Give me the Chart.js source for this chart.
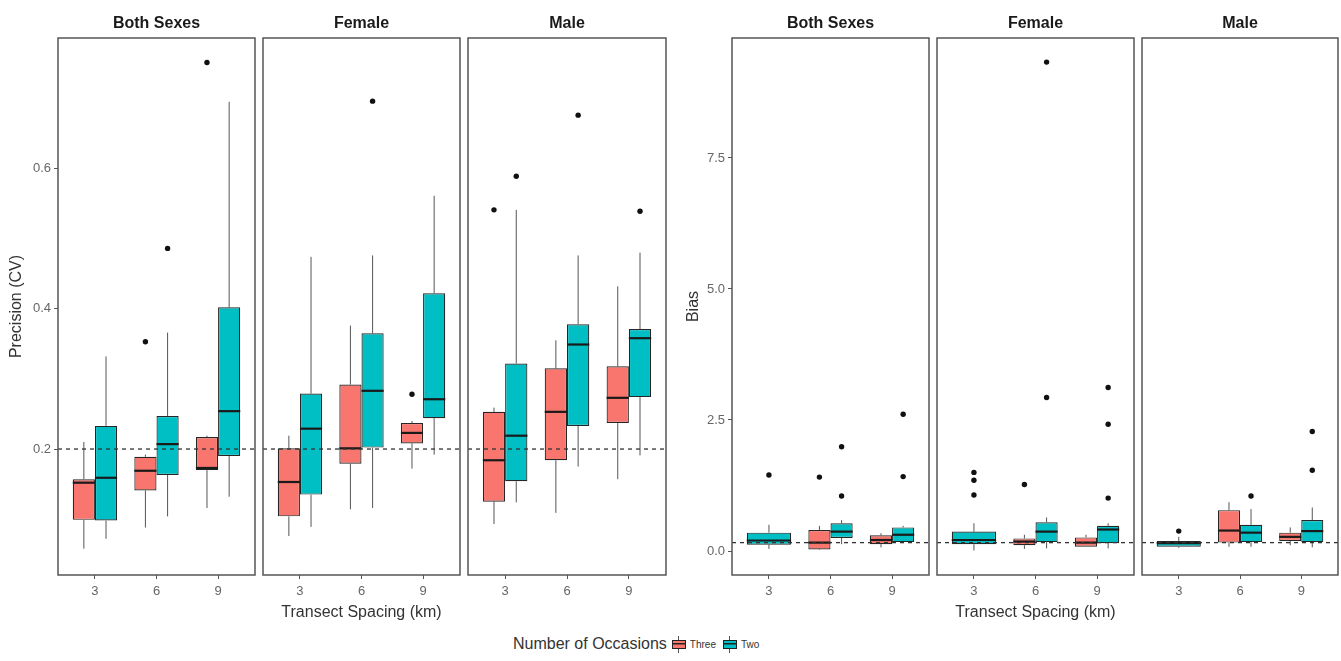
<!DOCTYPE html>
<html>
<head>
<meta charset="utf-8">
<script src="https://cdn.jsdelivr.net/npm/chart.js@4.4.0/dist/chart.umd.min.js"></script>
<style>
  html, body { margin: 0; padding: 0; background: #fff; }
  body { width: 1341px; height: 661px; position: relative; overflow: hidden; font-family: "Liberation Sans", Arial, sans-serif; }
  canvas { position: absolute; left: 0; top: 0; }
  #legend { position: absolute; left: 513px; top: 634px; height: 20px; display: flex; align-items: center; color: #333; }
  #legend .ttl { font-size: 16px; margin-right: 5px; }
  #legend .lab { font-size: 10px; margin: 0 7px 0 4px; }
  .key { position: relative; display: inline-block; width: 14px; height: 17px; }
  .key::before { content: ''; position: absolute; left: 6px; top: 0; width: 1px; height: 17px; background: #555; }
  .key::after { content: ''; position: absolute; left: 0; top: 4px; width: 12px; height: 7px; border: 1px solid #222;
    background: linear-gradient(#222, #222) center / 100% 1.5px no-repeat, var(--c); }
</style>
</head>
<body>
<div id="legend">
  <span class="ttl">Number of Occasions</span>
  <span class="key" style="--c:#F8766D"></span><span class="lab">Three</span>
  <span class="key" style="--c:#00BFC4"></span><span class="lab">Two</span>
</div>
<script>
// transect spacing categories (km)
const spacings = [3, 6, 9];
const xTickLabels = ['3', '6', '9'];

// each box: [lower whisker, Q1, median, Q3, upper whisker], one per spacing
// Precision (CV)
const cvBothThree = [[0.058, 0.099, 0.152, 0.157, 0.210], [0.088, 0.141, 0.169, 0.189, 0.192], [0.116, 0.170, 0.173, 0.217, 0.219]];
const cvBothTwo = [[0.072, 0.098, 0.159, 0.233, 0.332], [0.104, 0.163, 0.207, 0.247, 0.366], [0.132, 0.190, 0.254, 0.402, 0.695]];
const cvBothThreeOut = [[], [0.353], [0.751]];
const cvBothTwoOut = [[], [0.486], []];

const cvFemaleThree = [[0.076, 0.104, 0.153, 0.201, 0.219], [0.114, 0.179, 0.201, 0.292, 0.376], [0.172, 0.208, 0.223, 0.237, 0.240]];
const cvFemaleTwo = [[0.089, 0.135, 0.229, 0.279, 0.474], [0.116, 0.202, 0.283, 0.365, 0.476], [0.192, 0.244, 0.271, 0.422, 0.561]];
const cvFemaleThreeOut = [[], [], [0.278]];
const cvFemaleTwoOut = [[], [0.696], []];

const cvMaleThree = [[0.093, 0.125, 0.184, 0.253, 0.259], [0.109, 0.184, 0.253, 0.315, 0.355], [0.157, 0.237, 0.273, 0.318, 0.432]];
const cvMaleTwo = [[0.124, 0.154, 0.219, 0.322, 0.541], [0.175, 0.233, 0.349, 0.378, 0.476], [0.191, 0.274, 0.358, 0.371, 0.480]];
const cvMaleThreeOut = [[0.541], [], []];
const cvMaleTwoOut = [[0.589], [0.676], [0.539]];

// Bias (no "Three" box at 3 km)
const biasBothThree = [null, [0.02, 0.03, 0.16, 0.40, 0.48], [0.07, 0.13, 0.21, 0.30, 0.34]];
const biasBothTwo = [[0.04, 0.12, 0.20, 0.35, 0.50], [0.13, 0.25, 0.37, 0.53, 0.59], [0.15, 0.17, 0.31, 0.45, 0.48]];
const biasBothThreeOut = [[], [1.41], []];
const biasBothTwoOut = [[1.45], [1.99, 1.05], [2.61, 1.42]];

const biasFemaleThree = [null, [0.04, 0.11, 0.18, 0.24, 0.31], [0.08, 0.08, 0.16, 0.26, 0.31]];
const biasFemaleTwo = [[0.01, 0.13, 0.21, 0.37, 0.53], [0.05, 0.17, 0.37, 0.55, 0.64], [0.05, 0.15, 0.41, 0.48, 0.53]];
const biasFemaleThreeOut = [[], [1.27], []];
const biasFemaleTwoOut = [[1.50, 1.35, 1.07], [9.33, 2.93], [3.12, 2.42, 1.01]];

const biasMaleThree = [null, [0.08, 0.16, 0.39, 0.78, 0.93], [0.11, 0.19, 0.27, 0.35, 0.45]];
const biasMaleTwo = [[0.06, 0.08, 0.15, 0.19, 0.27], [0.08, 0.17, 0.35, 0.50, 0.80], [0.07, 0.17, 0.38, 0.59, 0.83]];
const biasMaleThreeOut = [[], [], []];
const biasMaleTwoOut = [[0.38], [1.05], [2.28, 1.54]];

// y axes
const cvTicks = [0.2, 0.4, 0.6];
const cvTickLabels = ['0.2', '0.4', '0.6'];
const biasTicks = [0, 2.5, 5, 7.5];
const biasTickLabels = ['0.0', '2.5', '5.0', '7.5'];
const cvRef = 0.2;
const biasRef = 0.16;

const PAGE_W = 1341, PAGE_H = 661;
const PANEL_BOTTOM = 575;
const X_AXIS_H = 48;
const FONT = '"Liberation Sans", Arial, sans-serif';
const COLORS = { Three: '#F8766D', Two: '#00BFC4' };

const axes = {
  cv: { min: 0.0204, max: 0.786, ticks: cvTicks, labels: cvTickLabels, title: 'Precision (CV)', ref: cvRef, width: 58, titlePad: 7 },
  bias: { min: -0.458, max: 9.79, ticks: biasTicks, labels: biasTickLabels, title: 'Bias', ref: biasRef, width: 50, titlePad: 2 }
};

const facets = [
  { axis: 'cv', name: 'Both Sexes', three: cvBothThree, two: cvBothTwo, threeOut: cvBothThreeOut, twoOut: cvBothTwoOut, left: 58, right: 255, showY: true },
  { axis: 'cv', name: 'Female', three: cvFemaleThree, two: cvFemaleTwo, threeOut: cvFemaleThreeOut, twoOut: cvFemaleTwoOut, left: 263, right: 460, xTitle: true },
  { axis: 'cv', name: 'Male', three: cvMaleThree, two: cvMaleTwo, threeOut: cvMaleThreeOut, twoOut: cvMaleTwoOut, left: 468, right: 666 },
  { axis: 'bias', name: 'Both Sexes', three: biasBothThree, two: biasBothTwo, threeOut: biasBothThreeOut, twoOut: biasBothTwoOut, left: 732, right: 929, showY: true },
  { axis: 'bias', name: 'Female', three: biasFemaleThree, two: biasFemaleTwo, threeOut: biasFemaleThreeOut, twoOut: biasFemaleTwoOut, left: 937, right: 1134, xTitle: true },
  { axis: 'bias', name: 'Male', three: biasMaleThree, two: biasMaleTwo, threeOut: biasMaleThreeOut, twoOut: biasMaleTwoOut, left: 1142, right: 1338 }
];

// whiskers, medians, outliers, reference line and panel border
const boxDetails = {
  id: 'boxDetails',
  beforeDatasetsDraw(chart) {
    const { ctx } = chart;
    const y = chart.scales.y;
    ctx.save();
    ctx.strokeStyle = '#555';
    ctx.lineWidth = 1;
    chart.data.datasets.forEach((ds, di) => {
      chart.getDatasetMeta(di).data.forEach((bar, i) => {
        const st = ds.stats[i];
        if (!st) return;
        ctx.beginPath();
        ctx.moveTo(bar.x, y.getPixelForValue(st[0]));
        ctx.lineTo(bar.x, y.getPixelForValue(st[1]));
        ctx.moveTo(bar.x, y.getPixelForValue(st[3]));
        ctx.lineTo(bar.x, y.getPixelForValue(st[4]));
        ctx.stroke();
      });
    });
    ctx.restore();
  },
  afterDatasetsDraw(chart, args, opts) {
    const { ctx, chartArea } = chart;
    const y = chart.scales.y;
    ctx.save();
    chart.data.datasets.forEach((ds, di) => {
      chart.getDatasetMeta(di).data.forEach((bar, i) => {
        const st = ds.stats[i];
        if (!st) return;
        const py = y.getPixelForValue(st[2]);
        ctx.strokeStyle = '#1a1a1a';
        ctx.lineWidth = 2.2;
        ctx.beginPath();
        ctx.moveTo(bar.x - bar.width / 2, py);
        ctx.lineTo(bar.x + bar.width / 2, py);
        ctx.stroke();
        ctx.fillStyle = '#111';
        ds.outs[i].forEach(v => {
          ctx.beginPath();
          ctx.arc(bar.x, y.getPixelForValue(v), 2.7, 0, Math.PI * 2);
          ctx.fill();
        });
      });
    });
    const ry = y.getPixelForValue(opts.ref);
    ctx.strokeStyle = '#333';
    ctx.lineWidth = 1.3;
    ctx.setLineDash([4, 4]);
    ctx.beginPath();
    ctx.moveTo(chartArea.left, ry);
    ctx.lineTo(chartArea.right, ry);
    ctx.stroke();
    ctx.setLineDash([]);
    ctx.strokeStyle = '#555';
    ctx.lineWidth = 1.5;
    ctx.strokeRect(chartArea.left, chartArea.top, chartArea.right - chartArea.left, chartArea.bottom - chartArea.top);
    ctx.restore();
  }
};

function boxDataset(label, stats, outs) {
  return {
    label, stats, outs,
    data: spacings.map((s, i) => ({ x: s, y: stats[i] ? [stats[i][1], stats[i][3]] : null })),
    backgroundColor: COLORS[label],
    borderColor: '#262626',
    borderWidth: 1.2,
    borderSkipped: false,
    categoryPercentage: 0.72,
    barPercentage: 1,
    skipNull: true
  };
}

facets.forEach(f => {
  const g = axes[f.axis];
  const canvas = document.createElement('canvas');
  canvas.width = PAGE_W;
  canvas.height = PAGE_H;
  document.body.appendChild(canvas);
  const step = spacings[1] - spacings[0];

  new Chart(canvas, {
    type: 'bar',
    data: { datasets: [boxDataset('Three', f.three, f.threeOut), boxDataset('Two', f.two, f.twoOut)] },
    options: {
      responsive: false,
      animation: false,
      devicePixelRatio: 1,
      layout: {
        padding: {
          left: f.showY ? f.left - g.width : f.left,
          right: PAGE_W - f.right,
          top: 0,
          bottom: PAGE_H - PANEL_BOTTOM - X_AXIS_H
        }
      },
      plugins: {
        legend: { display: false },
        tooltip: { enabled: false },
        title: {
          display: true, text: f.name, fullSize: false, color: '#1a1a1a',
          font: { family: FONT, size: 16, weight: 'bold' },
          padding: { top: 14, bottom: 38 - 14 - 19.2 }
        },
        boxDetails: { ref: g.ref }
      },
      scales: {
        x: {
          type: 'linear',
          min: spacings[0] - 0.6 * step,
          max: spacings[spacings.length - 1] + 0.6 * step,
          offset: false,
          border: { display: false },
          grid: { display: true, offset: false, drawOnChartArea: false, drawTicks: true, tickLength: 4, color: '#555' },
          ticks: { color: '#666', font: { family: FONT, size: 13 }, padding: 5, maxRotation: 0,
            callback: (v, i) => xTickLabels[i] },
          afterBuildTicks: s => { s.ticks = spacings.map(v => ({ value: v })); },
          afterFit: s => { s.height = X_AXIS_H; },
          title: { display: !!f.xTitle, text: 'Transect Spacing (km)', color: '#333',
            font: { family: FONT, size: 16 }, padding: { top: 0, bottom: 1 } }
        },
        y: {
          type: 'linear',
          display: !!f.showY,
          min: g.min,
          max: g.max,
          border: { display: false },
          grid: { display: true, drawOnChartArea: false, drawTicks: true, tickLength: 4, color: '#555' },
          ticks: { color: '#666', font: { family: FONT, size: 13 }, padding: 3,
            callback: (v, i) => g.labels[i] },
          afterBuildTicks: s => { s.ticks = g.ticks.map(v => ({ value: v })); },
          afterFit: s => { s.width = f.showY ? g.width : 0; },
          title: { display: true, text: g.title, color: '#333',
            font: { family: FONT, size: 16 }, padding: { top: g.titlePad, bottom: 0 } }
        }
      }
    },
    plugins: [boxDetails]
  });
});
</script>
</body>
</html>
